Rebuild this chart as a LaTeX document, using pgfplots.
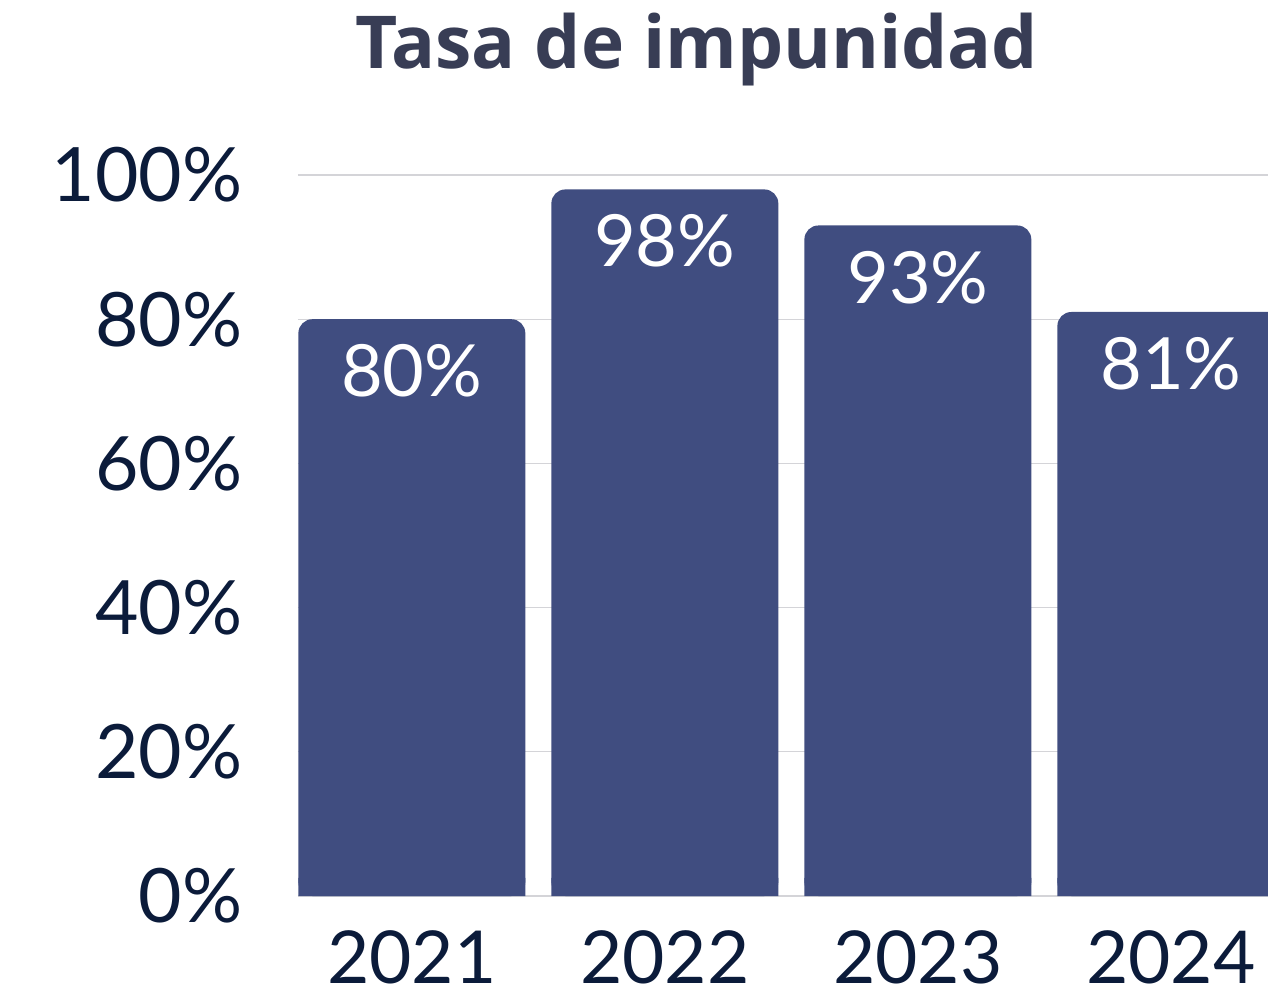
\documentclass[border=0pt]{standalone}
\usepackage{pgfplots}
\pgfplotsset{compat=1.18}
\usepackage{fontspec}
\setmainfont{Lato}
\newfontfamily\titlefont{Open Sans}
\definecolor{barblue}{HTML}{404D80}
\definecolor{tickcol}{HTML}{0B1B3A}
\definecolor{titlecol}{HTML}{383D55}
\definecolor{gridcol}{HTML}{D4D4D8}

\pgfplotstableread{
x val
0 80
1 98
2 93
3 81
}\impunidad

\begin{document}
\begin{tikzpicture}
\begin{axis}[
    scale only axis,
    width=485pt, height=360.5pt,
    xmin=-0.45, xmax=3.384,
    ymin=0, ymax=100,
    ytick={0,20,40,60,80,100},
    xtick={0,1,2,3},
    xticklabels={2021,2022,2023,2024},
    yticklabel={\pgfmathprintnumber{\tick}\%},
    /pgf/number format/assume math mode=true,
    axis x line*=bottom,
    axis y line*=left,
    x axis line style={draw=gridcol, line width=0.6pt},
    y axis line style={draw=none},
    major tick length=0pt,
    ymajorgrids,
    grid style={gridcol, line width=0.6pt},
    yticklabel style={inner sep=0pt, xshift=-27.5pt, text=tickcol, font=\fontsize{37.5}{40}\selectfont},
    xticklabel style={inner sep=0pt, anchor=north, yshift=-17pt, text=tickcol, font=\fontsize{36.5}{40}\selectfont},
    title={Tasa de impunidad},
    title style={at={(0.411,1)}, anchor=base, yshift=47pt, text=titlecol, font=\titlefont\bfseries\fontsize{36.5}{40}\selectfont},
    ybar, bar width=0.897,
]
\addplot[fill=barblue, draw=none, bar shift=0pt, rounded corners=7pt,
    nodes near coords={\pgfmathprintnumber[assume math mode=true]{\pgfplotspointmeta}\%},
    every node near coord/.append style={anchor=north, inner sep=0pt, yshift=-12.5pt, text=white, font=\fontsize{36}{40}\selectfont},
] table[x=x, y=val] {\impunidad};
% square foot under each bar, hides the rounded bottom corners
\addplot[fill=barblue, draw=none, bar shift=0pt, forget plot, y filter/.expression={min(y,2.5)}] table[x=x, y=val] {\impunidad};
\end{axis}
\pgfresetboundingbox
\path[use as bounding box] ([xshift=-149pt, yshift=-48pt]current axis.south west) rectangle ([yshift=87.5pt]current axis.north east);
\end{tikzpicture}
\end{document}
